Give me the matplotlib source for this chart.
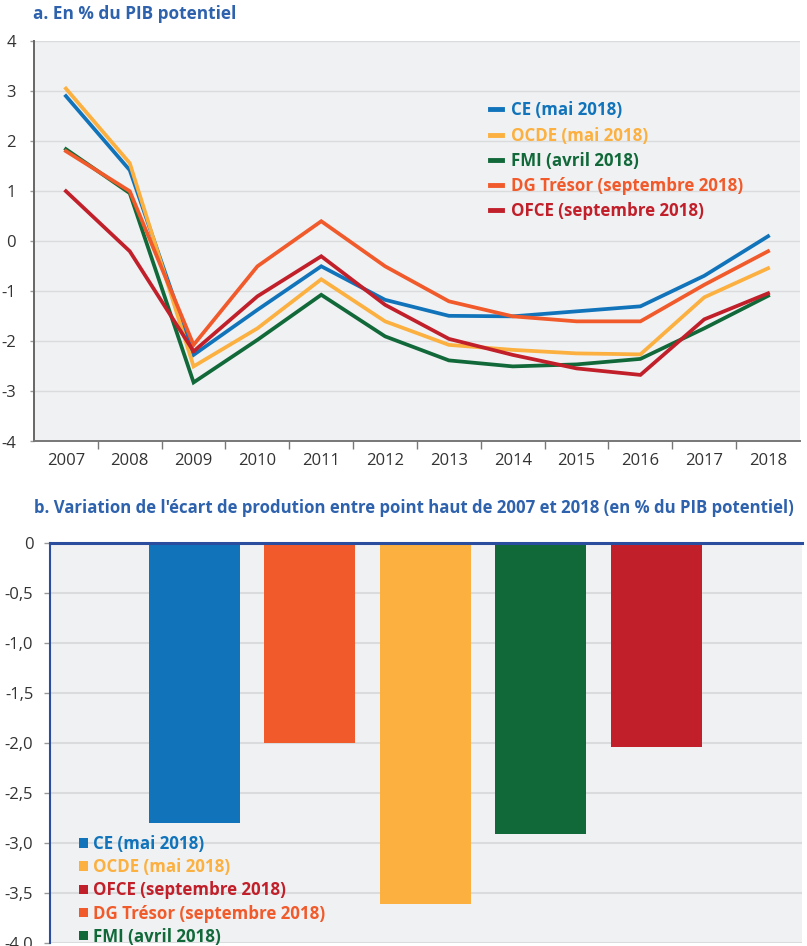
import matplotlib
matplotlib.use("Agg")
import matplotlib.pyplot as plt
from matplotlib.patches import Patch
from matplotlib.lines import Line2D

plt.rcParams['font.family'] = ['Open Sans', 'DejaVu Sans']

years = ["2007", "2008", "2009", "2010", "2011", "2012", "2013", "2014", "2015", "2016", "2017", "2018"]
ce = [2.90, 1.42, -2.27, -1.37, -0.50, -1.17, -1.49, -1.50, -1.40, -1.30, -0.69, 0.10]
ocde = [3.05, 1.56, -2.50, -1.74, -0.76, -1.60, -2.07, -2.17, -2.24, -2.26, -1.12, -0.54]
fmi = [1.84, 0.96, -2.82, -1.97, -1.07, -1.90, -2.38, -2.50, -2.46, -2.35, -1.74, -1.09]
dgt = [1.80, 1.00, -2.07, -0.50, 0.40, -0.50, -1.20, -1.50, -1.60, -1.60, -0.87, -0.20]
ofce = [1.00, -0.20, -2.20, -1.10, -0.30, -1.27, -1.95, -2.27, -2.54, -2.67, -1.56, -1.04]

series_names = ["CE (mai 2018)", "OCDE (mai 2018)", "FMI (avril 2018)",
                "DG Trésor (septembre 2018)", "OFCE (septembre 2018)"]
series_vals = [ce, ocde, fmi, dgt, ofce]
series_colors = ["#1174bb", "#fbb040", "#11693a", "#f15a2b", "#c1202a"]

bar_names = ["CE (mai 2018)", "DG Trésor (septembre 2018)", "OCDE (mai 2018)",
             "FMI (avril 2018)", "OFCE (septembre 2018)"]
bar_vals = [-2.80, -2.00, -3.61, -2.91, -2.04]
bar_colors = ["#1174bb", "#f15a2b", "#fbb040", "#11693a", "#c1202a"]

legend_b_order = ["CE (mai 2018)", "OCDE (mai 2018)", "OFCE (septembre 2018)",
                  "DG Trésor (septembre 2018)", "FMI (avril 2018)"]

W, H = 807, 946
fig = plt.figure(figsize=(W / 100, H / 100), dpi=100)
title_color = "#2e62ad"
bg = "#f0f1f3"
tick_color = "#333333"
fs = 12.2

# ---------- Panel a ----------
ax1 = fig.add_axes([34 / W, 1 - 441.5 / H, 766 / W, 400.5 / H])
ax1.set_facecolor(bg)
x = list(range(len(years)))
for name, vals, col in zip(series_names, series_vals, series_colors):
    ax1.plot(x, vals, color=col, lw=2.7, label=name, solid_joinstyle='miter')
ax1.set_xlim(-0.5, len(years) - 0.5)
ax1.set_ylim(-4, 4)
ax1.set_yticks(range(-4, 5))
ax1.set_yticklabels([str(v) for v in range(-4, 5)])
ax1.yaxis.grid(True, color="#dadbdd", lw=1)
ax1.set_axisbelow(True)
ax1.set_xticks(x)
ax1.set_xticklabels(years)
ax1.set_xticks([i + 0.5 for i in range(len(years) - 1)], minor=True)
ax1.tick_params(axis='x', which='major', length=0, pad=8, labelsize=12, labelcolor=tick_color)
ax1.tick_params(axis='x', which='minor', length=6, width=1, color="#777777")
ax1.tick_params(axis='y', length=3, width=1, color="#999999", pad=10, labelsize=12, labelcolor=tick_color)
for s in ['top', 'right']:
    ax1.spines[s].set_visible(False)
ax1.spines['left'].set_color("#666666")
ax1.spines['left'].set_linewidth(1.4)
ax1.spines['bottom'].set_color("#777777")
ax1.spines['bottom'].set_linewidth(1.4)

handles = [Line2D([0], [0], color=c, lw=3.5) for c in series_colors]
ax1.legend(handles, series_names, loc='upper left',
           bbox_to_anchor=((475 - 34) / 766, (441.5 - 86) / 400.5),
           frameon=False, handlelength=0.7, handletextpad=0.55,
           labelspacing=0.43, labelcolor=series_colors,
           prop={'weight': 'bold', 'size': fs})

fig.text(33 / W, 1 - 14 / H, "a. En % du PIB potentiel", color=title_color,
         fontsize=12.4, fontweight='bold', ha='left', va='center')

# ---------- Panel b ----------
ax2 = fig.add_axes([50 / W, 1 - 943 / H, 752 / W, 399.7 / H])
ax2.set_facecolor(bg)
bx = list(range(len(bar_vals)))
ax2.bar(bx, bar_vals, width=0.79, color=bar_colors, zorder=2)
ax2.set_xlim(-1.252, 5.264)
ax2.set_ylim(-4, 0)
yt = [0, -0.5, -1.0, -1.5, -2.0, -2.5, -3.0, -3.5, -4.0]
ax2.set_yticks(yt)
ax2.set_yticklabels(["0"] + [("%.1f" % v).replace(".", ",") for v in yt[1:]])
ax2.yaxis.grid(True, color="#dadbdd", lw=1.5, zorder=0)
ax2.set_axisbelow(True)
ax2.set_xticks([])
ax2.tick_params(axis='y', length=4, width=1, color="#999999", pad=8, labelsize=12, labelcolor=tick_color)
ax2.spines['right'].set_visible(False)
ax2.spines['bottom'].set_visible(False)
ax2.spines['left'].set_color("#2a4d9e")
ax2.spines['left'].set_linewidth(1.5)
ax2.spines['top'].set_color("#2a4d9e")
ax2.spines['top'].set_linewidth(2.2)
ax2.spines['top'].set_zorder(5)

col_of = dict(zip(bar_names, bar_colors))
handles_b = [Patch(facecolor=col_of[n], edgecolor='none') for n in legend_b_order]
ax2.legend(handles_b, legend_b_order, loc='upper left',
           bbox_to_anchor=((64 - 50) / 752, (943 - 820) / 399.7),
           frameon=False, handlelength=0.5, handleheight=0.5, handletextpad=0.3,
           labelspacing=0.3, labelcolor=[col_of[n] for n in legend_b_order],
           prop={'weight': 'bold', 'size': fs})

fig.text(34 / W, 1 - 508 / H,
         "b. Variation de l'écart de prodution entre point haut de 2007 et 2018 (en % du PIB potentiel)",
         color=title_color, fontsize=12.1, fontweight='bold', ha='left', va='center')

fig.savefig("out.png", dpi=100, facecolor='white')
